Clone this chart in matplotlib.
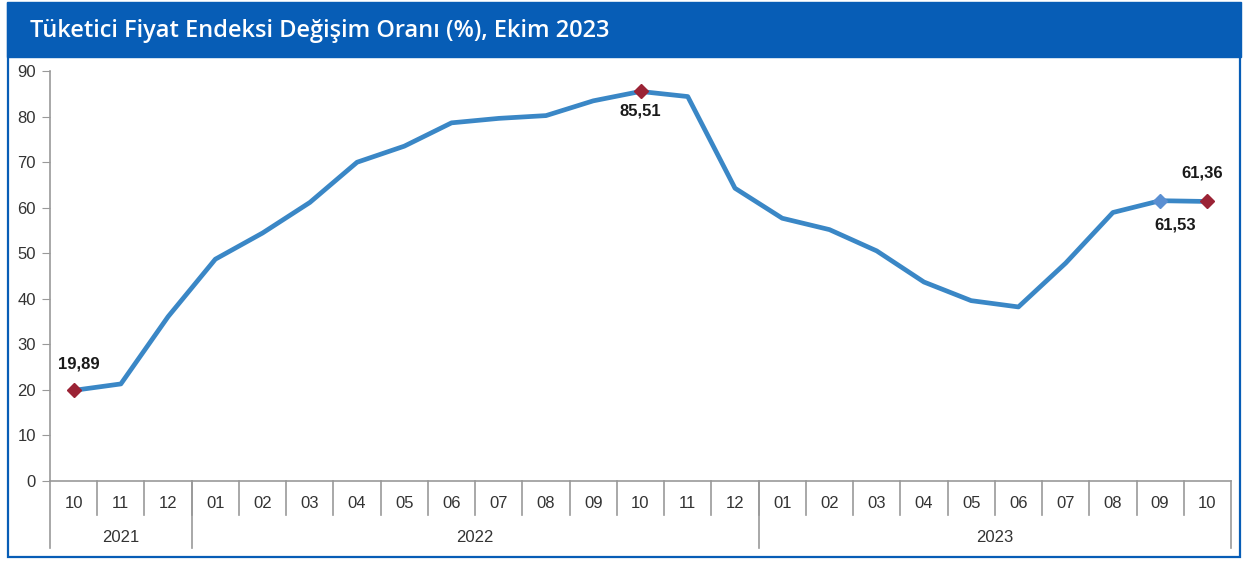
import matplotlib
matplotlib.use("Agg")
import matplotlib.pyplot as plt
from matplotlib.patches import Rectangle
import matplotlib.transforms as mtransforms

# data
months = ["10", "11", "12",
          "01", "02", "03", "04", "05", "06", "07", "08", "09", "10", "11", "12",
          "01", "02", "03", "04", "05", "06", "07", "08", "09", "10"]
years = ["2021", "2022", "2023"]
year_counts = [3, 12, 10]
values = [19.89, 21.31, 36.08,
          48.69, 54.44, 61.14, 69.97, 73.50, 78.62, 79.60, 80.21, 83.45, 85.51, 84.39, 64.27,
          57.68, 55.18, 50.51, 43.68, 39.59, 38.21, 47.83, 58.94, 61.53, 61.36]
red_points = [0, 12, 24]
blue_points = [23]
title = "Tüketici Fiyat Endeksi Değişim Oranı (%), Ekim 2023"

W, H = 1248, 563
fig = plt.figure(figsize=(W / 100, H / 100), dpi=100)
plt.rcParams['font.family'] = ['Liberation Sans', 'DejaVu Sans']

# frame + header
blue = "#075db6"
fig.patches.append(Rectangle((7 / W, 1 - 57 / H), (1241 - 7) / W, 55 / H,
                             transform=fig.transFigure, color=blue, zorder=0))
fig.patches.append(Rectangle((7.5 / W, 1 - 557 / H), (1240 - 7.5) / W, (557 - 4) / H,
                             transform=fig.transFigure, fill=False, edgecolor=blue,
                             linewidth=1.6, zorder=0))
fig.text(30 / W, 1 - 31 / H, title, color="white", fontsize=17, fontweight="semibold",
         family=["Open Sans", "DejaVu Sans"], va="center", ha="left")

x0, x1, ytop, ybot = 50, 1231, 71, 481
ax = fig.add_axes([x0 / W, 1 - ybot / H, (x1 - x0) / W, (ybot - ytop) / H])
x = list(range(len(values)))
ax.plot(x, values, color="#3a87c6", linewidth=3.4, solid_joinstyle="round", zorder=3)
ax.plot([x[i] for i in red_points], [values[i] for i in red_points], "D",
        color="#9b2335", markersize=7, zorder=4)
ax.plot([x[i] for i in blue_points], [values[i] for i in blue_points], "D",
        color="#5a8fd2", markersize=7, zorder=4)

ax.set_xlim(-0.5, len(values) - 0.5)
ax.set_ylim(0, 90)
ax.set_yticks(range(0, 91, 10))
ax.tick_params(axis="y", length=6, color="#999999", labelsize=12, labelcolor="#333333", pad=4)
ax.set_xticks([])
for s in ["top", "right"]:
    ax.spines[s].set_visible(False)
for s in ["left", "bottom"]:
    ax.spines[s].set_color("#999999")
    ax.spines[s].set_linewidth(1.2)

# category axis with cells
trans = mtransforms.blended_transform_factory(ax.transData, ax.transAxes)
h = ybot - ytop
for i, m in enumerate(months):
    ax.text(i, -22 / h, m, transform=trans, ha="center", va="center",
            fontsize=12, color="#333333")
for i in range(1, len(months)):
    ax.plot([i - 0.5, i - 0.5], [0, -34 / h], transform=trans, color="#999999",
            linewidth=1.2, clip_on=False)
start = 0
bounds = [-0.5]
for yr, n in zip(years, year_counts):
    ax.text(start + (n - 1) / 2, -56 / h, yr, transform=trans, ha="center", va="center",
            fontsize=12, color="#333333")
    start += n
    bounds.append(start - 0.5)
for b in bounds:
    ax.plot([b, b], [0, -67 / h], transform=trans, color="#999999",
            linewidth=1.2, clip_on=False)

# annotations
labels = {0: (5, 26), 12: (0, -20), 24: (-5, 28), 23: (15, -24)}
for i, (dx, dy) in labels.items():
    ax.annotate(f"{values[i]:.2f}".replace(".", ","), (x[i], values[i]),
                xytext=(dx * 0.72, dy * 0.72), textcoords="offset points",
                ha="center", va="center", fontsize=12, fontweight="bold", color="#1a1a1a")

fig.savefig("out.png", dpi=100)
